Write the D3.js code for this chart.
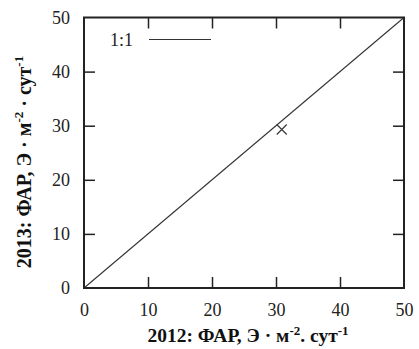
<!DOCTYPE html>
<html><head><meta charset="utf-8">
<script src="https://cdn.jsdelivr.net/npm/d3@7"></script>
<style>body{margin:0;background:#fff}svg{display:block}</style>
</head><body>
<script>
const xTicks = [0, 10, 20, 30, 40, 50];
const yTicks = [0, 10, 20, 30, 40, 50];
const pointsX = [30.9];
const pointsY = [29.3];
const refLine = [[0, 0], [50, 50]];
const legendLabel = "1:1";

const W = 419, H = 349;
const m = {left: 84, top: 17.5, right: 15, bottom: 61};
const svg = d3.select("body").append("svg").attr("width", W).attr("height", H);
const x = d3.scaleLinear().domain([0, 50]).range([m.left, W - m.right]);
const y = d3.scaleLinear().domain([0, 50]).range([H - m.bottom, m.top]);
const font = "Liberation Serif, Times New Roman, serif";

// reference 1:1 line
svg.append("path").attr("d", d3.line().x(d => x(d[0])).y(d => y(d[1]))(refLine))
  .attr("stroke", "#333").attr("stroke-width", 1.1).attr("fill", "none");

// point
const pts = pointsX.map((v, i) => [v, pointsY[i]]);
const s = 5;
svg.selectAll("path.pt").data(pts).join("path").attr("class", "pt")
  .attr("d", d => { const cx = x(d[0]), cy = y(d[1]);
    return `M${cx - s},${cy - s}L${cx + s},${cy + s}M${cx - s},${cy + s}L${cx + s},${cy - s}`; })
  .attr("stroke", "#333").attr("stroke-width", 1.1).attr("fill", "none");

// axes with inward ticks (mirror)
const tl = 11;
const axB = svg.append("g").attr("transform", `translate(0,${y(0)})`)
  .call(d3.axisBottom(x).tickValues(xTicks).tickSize(-tl).tickPadding(15).tickFormat(d3.format("d")));
const axT = svg.append("g").attr("transform", `translate(0,${y(50)})`)
  .call(d3.axisTop(x).tickValues(xTicks).tickSize(-tl).tickFormat(""));
const axL = svg.append("g").attr("transform", `translate(${x(0)},0)`)
  .call(d3.axisLeft(y).tickValues(yTicks).tickSize(-tl).tickPadding(14).tickFormat(d3.format("d")));
const axR = svg.append("g").attr("transform", `translate(${x(50)},0)`)
  .call(d3.axisRight(y).tickValues(yTicks).tickSize(-tl).tickFormat(""));
[axB, axT, axL, axR].forEach(g => {
  g.attr("font-family", font).attr("font-size", 18);
  g.select(".domain").remove();
  g.selectAll(".tick line").attr("stroke", "#222").attr("stroke-width", 1.5);
  g.selectAll("text").attr("fill", "#222");
  g.selectAll(".tick").filter(d => d === 0 || d === 50).select("line").remove();
});

// frame
svg.append("rect").attr("x", x(0)).attr("y", y(50)).attr("width", x(50) - x(0)).attr("height", y(0) - y(50))
  .attr("fill", "none").attr("stroke", "#222").attr("stroke-width", 2);

// legend
svg.append("text").attr("x", 133).attr("y", 46).attr("text-anchor", "end")
  .attr("font-family", font).attr("font-size", 18).attr("fill", "#222").text(legendLabel);
svg.append("line").attr("x1", 149).attr("x2", 211).attr("y1", 39.5).attr("y2", 39.5)
  .attr("stroke", "#333").attr("stroke-width", 1.1);

// axis titles
const xt = svg.append("text").attr("x", 248).attr("y", 342).attr("text-anchor", "middle")
  .attr("font-family", font).attr("font-size", 19.5).attr("font-weight", "bold").attr("fill", "#111");
xt.append("tspan").text("2012: ФАР, Э · м");
xt.append("tspan").attr("dy", -7).attr("font-size", 13).text("-2");
xt.append("tspan").attr("dy", 7).text(". сут");
xt.append("tspan").attr("dy", -7).attr("font-size", 13).text("-1");

const yt = svg.append("text").attr("transform", `translate(31,162) rotate(-90)`)
  .attr("text-anchor", "middle")
  .attr("font-family", font).attr("font-size", 20).attr("font-weight", "bold").attr("fill", "#111");
yt.append("tspan").text("2013: ФАР, Э · м");
yt.append("tspan").attr("dy", -8).attr("font-size", 13).text("-2");
yt.append("tspan").attr("dy", 8).text(" · сут");
yt.append("tspan").attr("dy", -8).attr("font-size", 13).text("-1");
</script>
</body></html>
